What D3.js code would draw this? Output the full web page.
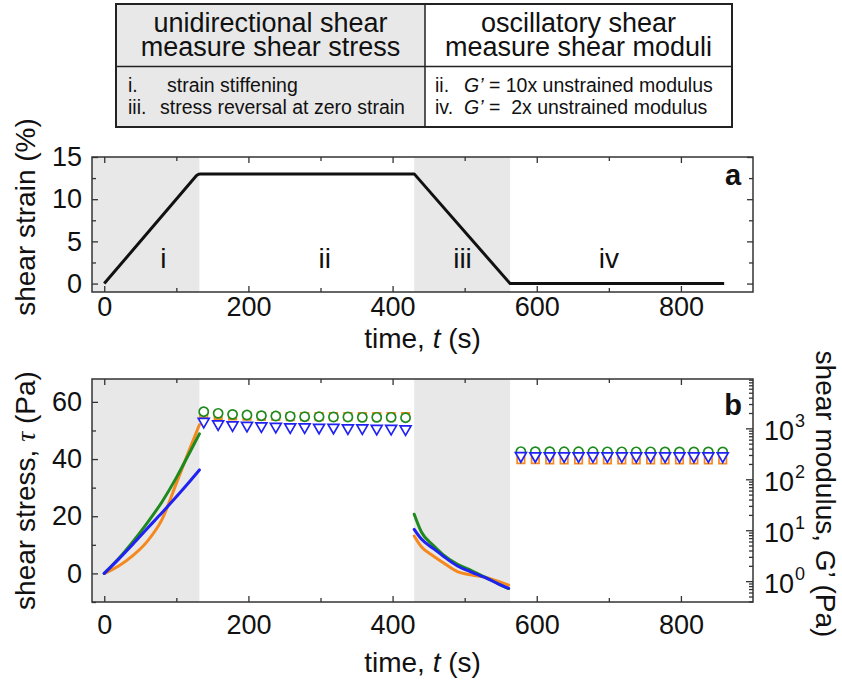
<!DOCTYPE html>
<html lang="en">
<head>
<meta charset="UTF-8">
<title>Shear protocol</title>
<style>
  body { margin: 0; background: #fff; }
  svg { display: block; font-family: "Liberation Sans", Arial, sans-serif; }
  .axis path { display: none; }
  .axis line { stroke: #333; stroke-width: 1.3px; }
  .axis text { font-size: 27px; fill: #111; font-family: "Liberation Sans", Arial, sans-serif; }
  .frame { fill: none; stroke: #333; stroke-width: 1.5px; }
  .shade { fill: #e8e8e8; }
  .curve { fill: none; stroke-width: 3px; }
  .title { font-size: 28px; fill: #111; }
</style>
</head>
<body>
<script src="https://d3js.org/d3.v7.min.js"></script>
<script>
// ---- data ----
var shadeStart = [-17, 430];
var shadeEnd = [132, 563];

var strainT = [0, 128, 131, 134, 430, 563, 860];
var strainV = [0, 12.8, 12.95, 13, 13, 0, 0];

var phaseLabels = ["i", "ii", "iii", "iv"];
var phaseLabelT = [82, 306, 497, 700];

var rampT = [0, 20, 40, 60, 80, 100, 120, 132];
var rampOrange = [0, 2.6, 6.3, 11.3, 18.8, 31.5, 44.5, 52];
var rampGreen = [0, 5.2, 11.2, 17.8, 25, 33.5, 43, 48.8];
var rampBlue = [0, 5, 10.3, 15.8, 21.2, 26.8, 32.6, 36.2];

var reverseT = [430, 440, 456, 470, 490, 510, 528, 548, 561];
var reverseGreen = [20.7, 14.5, 9.9, 6.6, 3.2, 0.9, -1.3, -3.8, -5.3];
var reverseBlue = [15.4, 12.0, 8.8, 6.1, 2.6, 0.4, -1.4, -3.8, -5.2];
var reverseOrange = [13.1, 9.3, 6.2, 3.8, 0.6, -0.6, -1.3, -2.9, -4.1];

var holdT = [138, 158, 178, 198, 218, 238, 258, 278, 298, 318, 338, 358, 378, 398, 418];
var holdGreen = [2120, 1970, 1880, 1825, 1770, 1745, 1720, 1690, 1690, 1670, 1670, 1645, 1645, 1645, 1615];
var holdBlue = [1360, 1215, 1160, 1135, 1110, 1085, 1060, 1060, 1040, 1040, 1015, 1015, 990, 990, 970];
var holdOrange = [1900, 1800, 1760, 1740, 1720, 1710, 1700, 1700, 1700, 1700, 1700, 1700, 1700, 1700, 1700];

var restT = [578, 598, 618, 638, 658, 678, 698, 718, 738, 758, 778, 798, 818, 838, 858];
var restGreen = [350, 348, 348, 347, 347, 347, 346, 346, 346, 346, 345, 345, 345, 345, 345];
var restBlue = [288, 287, 287, 286, 286, 286, 286, 286, 285, 285, 285, 285, 285, 285, 285];
var restOrange = [242, 242, 241, 241, 241, 241, 241, 241, 240, 240, 240, 240, 240, 240, 240];

var timeTicks = [0, 200, 400, 600, 800];
var timeMinor = [100, 300, 500, 700];
var strainTicks = [0, 5, 10, 15];
var strainMinor = [2.5, 7.5, 12.5];
var stressTicks = [0, 20, 40, 60];
var stressMinor = [-10, 10, 30, 50];
var modExp = [0, 1, 2, 3];

var colOrange = "#f5891f", colGreen = "#1e8a1e", colBlue = "#1f22f2";

// ---- layout ----
var W = 842, H = 681;
var svg = d3.select("body").append("svg").attr("width", W).attr("height", H);

var left = 92, right = 753;
var aTop = 157, aBot = 292;
var bTop = 379, bBot = 602;

var x = d3.scaleLinear().domain([-17, 900]).range([left, right]);
var yA = d3.scaleLinear().domain([-1, 15]).range([aBot, aTop]);
var yB = d3.scaleLinear().domain([-10, 68]).range([bBot, bTop]);
var yG = d3.scaleLog().domain([0.39, 9300]).range([bBot, bTop]);

// ---- table ----
var tab = svg.append("g");
tab.append("rect").attr("x", 116).attr("y", 4).attr("width", 309).attr("height", 123).attr("fill", "#e8e8e8");
tab.append("rect").attr("x", 116).attr("y", 4).attr("width", 616).attr("height", 123)
    .attr("fill", "none").attr("stroke", "#222").attr("stroke-width", 2);
tab.append("line").attr("x1", 425).attr("x2", 425).attr("y1", 4).attr("y2", 127).attr("stroke", "#222").attr("stroke-width", 1.5);
tab.append("line").attr("x1", 116).attr("x2", 732).attr("y1", 66.5).attr("y2", 66.5).attr("stroke", "#222").attr("stroke-width", 1.5);

// each header cell is one text block with two lines
var head = [["unidirectional shear", "measure shear stress"], ["oscillatory shear", "measure shear moduli"]];
var headX = [270.5, 578.5];
head.forEach(function(lines, i) {
    var t = tab.append("text").attr("x", headX[i]).attr("y", 32)
        .attr("text-anchor", "middle").style("font-size", "27px").attr("fill", "#111");
    lines.forEach(function(s, j) {
        t.append("tspan").attr("x", headX[i]).attr("dy", j ? 24 : 0).text(s);
    });
});

var rowNum = [["i.", "iii."], ["ii.", "iv."]];
var rowNumX = [128, 435];
var rowTxt = [["strain stiffening", "stress reversal at zero strain"]];
[0, 1].forEach(function(i) {
    [0, 1].forEach(function(j) {
        tab.append("text").attr("x", rowNumX[i]).attr("y", 92 + j * 21.5)
            .style("font-size", "19.5px").attr("fill", "#111").text(rowNum[i][j]);
    });
});
tab.append("text").attr("x", 167).attr("y", 92).style("font-size", "19.5px").attr("fill", "#111").text(rowTxt[0][0]);
tab.append("text").attr("x", 160).attr("y", 113.5).style("font-size", "19.5px").attr("fill", "#111").text(rowTxt[0][1]);
var g1 = tab.append("text").attr("x", 464).attr("y", 92).style("font-size", "19.5px").style("white-space", "pre").attr("fill", "#111");
g1.append("tspan").style("font-style", "italic").text("G\u2019");
g1.append("tspan").text(" = 10x unstrained modulus");
var g2 = tab.append("text").attr("x", 464).attr("y", 113.5).style("font-size", "19.5px").style("white-space", "pre").attr("fill", "#111");
g2.append("tspan").style("font-style", "italic").text("G\u2019");
g2.append("tspan").text(" =  2x unstrained modulus");

// ---- helpers ----
function shades(g, y0, y1) {
    shadeStart.forEach(function(s, i) {
        g.append("rect").attr("class", "shade")
            .attr("x", x(s)).attr("y", y0)
            .attr("width", x(shadeEnd[i]) - x(s)).attr("height", y1 - y0);
    });
}

function timeAxes(g, y0, y1, pad) {
    g.append("g").attr("class", "axis").attr("transform", "translate(0," + y1 + ")")
        .call(d3.axisBottom(x).tickValues(timeTicks).tickSize(-6).tickPadding(pad));
    g.append("g").attr("class", "axis").attr("transform", "translate(0," + y1 + ")")
        .call(d3.axisBottom(x).tickValues(timeMinor).tickSize(-4).tickFormat(""));
    g.append("g").attr("class", "axis").attr("transform", "translate(0," + y0 + ")")
        .call(d3.axisTop(x).tickValues(timeTicks).tickSize(-6).tickFormat(""));
    g.append("g").attr("class", "axis").attr("transform", "translate(0," + y0 + ")")
        .call(d3.axisTop(x).tickValues(timeMinor).tickSize(-4).tickFormat(""));
}

function xTitle(g, y) {
    var t = g.append("text").attr("class", "title").attr("x", (left + right) / 2).attr("y", y)
        .attr("text-anchor", "middle");
    t.append("tspan").text("time, ");
    t.append("tspan").style("font-style", "italic").text("t");
    t.append("tspan").text(" (s)");
}

// ---- panel a ----
var pa = svg.append("g");
shades(pa, aTop, aBot);

var strainLine = d3.line()
    .x(function(d, i) { return x(strainT[i]); })
    .y(function(d) { return yA(d); });
pa.append("path").datum(strainV).attr("class", "curve").attr("stroke", "#111")
    .attr("stroke-linejoin", "round").attr("d", strainLine);

phaseLabels.forEach(function(s, i) {
    pa.append("text").attr("x", x(phaseLabelT[i])).attr("y", yA(1.8))
        .attr("text-anchor", "middle").style("font-size", "28px").attr("fill", "#111").text(s);
});

timeAxes(pa, aTop, aBot, 5);
pa.append("g").attr("class", "axis").attr("transform", "translate(" + left + ",0)")
    .call(d3.axisLeft(yA).tickValues(strainTicks).tickSize(-6).tickPadding(10));
pa.append("g").attr("class", "axis").attr("transform", "translate(" + left + ",0)")
    .call(d3.axisLeft(yA).tickValues(strainMinor).tickSize(-4).tickFormat(""));
pa.append("g").attr("class", "axis").attr("transform", "translate(" + right + ",0)")
    .call(d3.axisRight(yA).tickValues(strainTicks).tickSize(-6).tickFormat(""));
pa.append("g").attr("class", "axis").attr("transform", "translate(" + right + ",0)")
    .call(d3.axisRight(yA).tickValues(strainMinor).tickSize(-4).tickFormat(""));
pa.append("rect").attr("class", "frame").attr("x", left).attr("y", aTop)
    .attr("width", right - left).attr("height", aBot - aTop);
pa.append("text").attr("x", 733).attr("y", 185).attr("text-anchor", "middle")
    .style("font-size", "29px").style("font-weight", "bold").attr("fill", "#111").text("a");

pa.append("text").attr("class", "title")
    .attr("transform", "translate(35,217) rotate(-90)")
    .attr("text-anchor", "middle").text("shear strain (%)");
xTitle(pa, 348);

// ---- panel b ----
var pb = svg.append("g");
shades(pb, bTop, bBot);

function stressLine(ts) {
    return d3.line().curve(d3.curveMonotoneX)
        .x(function(d, i) { return x(ts[i]); })
        .y(function(d) { return yB(d); });
}
[[rampOrange, colOrange], [rampGreen, colGreen], [rampBlue, colBlue]].forEach(function(s) {
    pb.append("path").datum(s[0]).attr("class", "curve").attr("stroke", s[1])
        .attr("stroke-linecap", "round").attr("d", stressLine(rampT));
});
[[reverseOrange, colOrange], [reverseGreen, colGreen], [reverseBlue, colBlue]].forEach(function(s) {
    pb.append("path").datum(s[0]).attr("class", "curve").attr("stroke", s[1])
        .attr("stroke-linecap", "round").attr("d", stressLine(reverseT));
});

function markers(ts, vals, type, size, col, rot) {
    pb.selectAll(null).data(vals).enter().append("path")
        .attr("d", d3.symbol().type(type).size(size))
        .attr("transform", function(d, i) {
            return "translate(" + x(ts[i]) + "," + yG(d) + ")" + (rot ? " rotate(180)" : "");
        })
        .attr("fill", "#fff").attr("stroke", col).attr("stroke-width", 1.7);
}
markers(holdT, holdOrange, d3.symbolSquare, 56, colOrange, false);
markers(holdT, holdGreen, d3.symbolCircle, 66, colGreen, false);
markers(holdT, holdBlue, d3.symbolTriangle, 52, colBlue, true);
markers(restT, restOrange, d3.symbolSquare, 56, colOrange, false);
markers(restT, restGreen, d3.symbolCircle, 66, colGreen, false);
markers(restT, restBlue, d3.symbolTriangle, 52, colBlue, true);

timeAxes(pb, bTop, bBot, 13);
pb.append("g").attr("class", "axis").attr("transform", "translate(" + left + ",0)")
    .call(d3.axisLeft(yB).tickValues(stressTicks).tickSize(-6).tickPadding(10));
pb.append("g").attr("class", "axis").attr("transform", "translate(" + left + ",0)")
    .call(d3.axisLeft(yB).tickValues(stressMinor).tickSize(-4).tickFormat(""));

// log axis on the right
var logMinor = [];
[-1, 0, 1, 2, 3].forEach(function(e) {
    d3.range(2, 10).forEach(function(m) {
        var v = m * Math.pow(10, e);
        if (v > 0.39 && v < 9300) logMinor.push(v);
    });
});
var logMajor = modExp.map(function(e) { return Math.pow(10, e); });
pb.append("g").attr("class", "axis").attr("transform", "translate(" + right + ",0)")
    .call(d3.axisRight(yG).tickValues(logMinor).tickSize(-4).tickFormat(""));
var rAx = pb.append("g").attr("class", "axis").attr("transform", "translate(" + right + ",0)")
    .call(d3.axisRight(yG).tickValues(logMajor).tickSize(-7).tickFormat(""));
rAx.selectAll(".tick").append("text").attr("x", 11).attr("dy", "0.42em").attr("fill", "#111")
    .each(function(d) {
        var t = d3.select(this);
        t.append("tspan").text("10");
        t.append("tspan").attr("dy", "-0.75em").attr("dx", "1").style("font-size", "18px").text(Math.round(Math.log10(d)));
    });

pb.append("rect").attr("class", "frame").attr("x", left).attr("y", bTop)
    .attr("width", right - left).attr("height", bBot - bTop);
pb.append("text").attr("x", 733).attr("y", 415).attr("text-anchor", "middle")
    .style("font-size", "29px").style("font-weight", "bold").attr("fill", "#111").text("b");

var lt = pb.append("text").attr("class", "title")
    .attr("transform", "translate(35," + (bTop + bBot) / 2 + ") rotate(-90)")
    .attr("text-anchor", "middle");
lt.append("tspan").text("shear stress, ");
lt.append("tspan").style("font-family", "'Liberation Serif', serif").style("font-style", "italic").text("\u03c4");
lt.append("tspan").text(" (Pa)");

pb.append("text").attr("class", "title")
    .attr("transform", "translate(816,494) rotate(90)")
    .attr("text-anchor", "middle").text("shear modulus, G\u2019 (Pa)");
xTitle(pb, 672);
</script>
</body>
</html>
